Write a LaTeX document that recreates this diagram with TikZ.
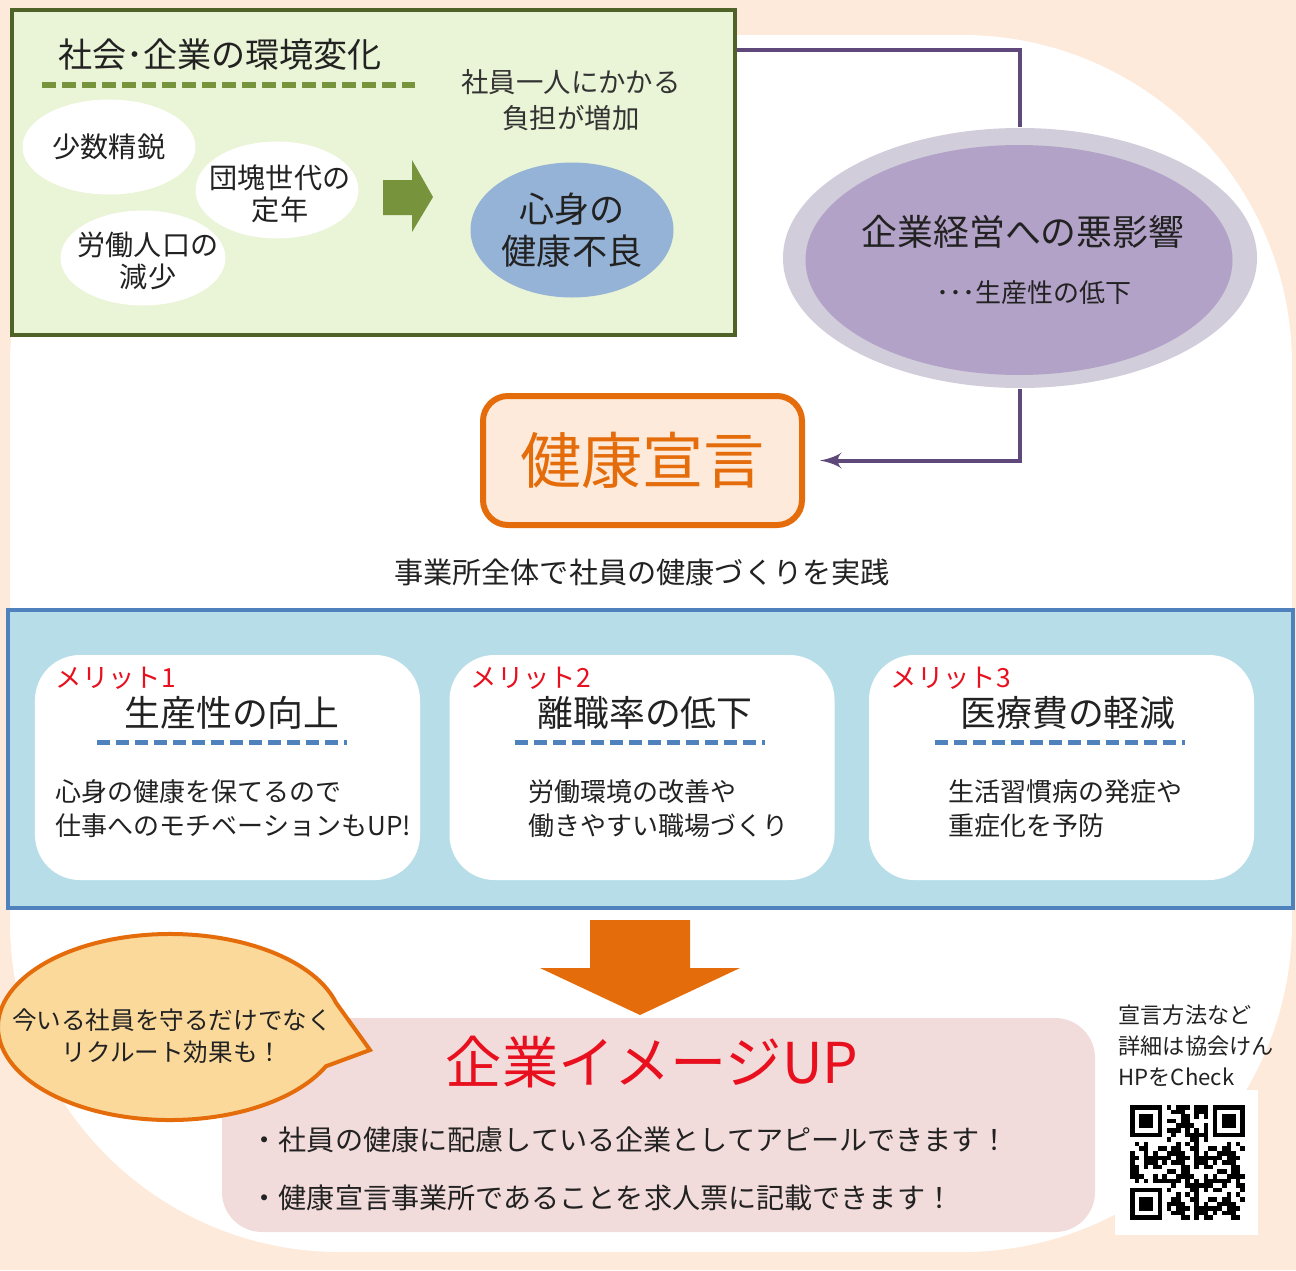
\documentclass[tikz,border=0pt]{standalone}
\usepackage{fontspec}
\setmainfont{Noto Sans CJK JP}
\usepackage{tikz}
\usetikzlibrary{shapes,arrows}
\usetikzlibrary{calc}
\usetikzlibrary{positioning}
\newcommand{\fsz}[2]{\fontsize{#1}{#2}\selectfont}
\definecolor{peach}{HTML}{FDEADA}
\definecolor{envlight}{HTML}{EAF4D6}
\definecolor{envdark}{HTML}{4F6228}
\definecolor{envmid}{HTML}{77933C}
\definecolor{healthblue}{HTML}{95B3D7}
\definecolor{linkpurple}{HTML}{5F497A}
\definecolor{halo}{HTML}{D2CDDB}
\definecolor{lavender}{HTML}{B3A2C7}
\definecolor{declorange}{HTML}{E46C0A}
\definecolor{framefill}{HTML}{B7DEE8}
\definecolor{frameblue}{HTML}{4F81BD}
\definecolor{meritred}{HTML}{E8101E}
\definecolor{imagepink}{HTML}{F2DCDB}
\definecolor{bubblefill}{HTML}{FAD99B}
\definecolor{ink}{HTML}{222222}
\tikzstyle{cloud} = [fill=white, ellipse, inner sep=0pt]
\tikzstyle{cloudtext} = [align=center, inner sep=0pt, text=ink, font=\fsz{8}{9.1}]
\tikzstyle{merit} = [fill=white, rounded corners=0.45cm,
    minimum width=3.85cm, minimum height=2.25cm]
\tikzstyle{tag} = [anchor=west, inner sep=0pt, text=meritred, font=\fsz{7.5}{9}]
\tikzstyle{head} = [inner sep=0pt, text=ink, font=\fsz{10.2}{12}]
\tikzstyle{body} = [anchor=west, align=left, inner sep=0pt, text=ink,
    font=\fsz{7.4}{9.7}]
\tikzstyle{rule} = [frameblue, line width=0.05cm, dash pattern=on 0.13cm off 0.06cm]
\tikzstyle{link} = [draw=linkpurple, line width=0.04cm]
\tikzstyle{bullet} = [anchor=west, inner sep=0pt, text=ink, font=\fsz{8}{9}]

\begin{document}
\begin{tikzpicture}[>=latex']
  \useasboundingbox (0,0) rectangle (12.96,-12.70);
  \fill [peach] (0,0) rectangle (12.96,-12.70);
  \fill [white, rounded corners=3.3cm] (0.10,-0.35) rectangle (12.92,-12.52);

  % environment change box
  \node [draw=envdark, line width=0.04cm, fill=envlight, minimum width=7.23cm,
    minimum height=3.25cm] at (3.735,-1.725) (env) {};
  \node [inner sep=0pt, text=ink, font=\fsz{9.7}{11}] at (2.20,-0.55) (envtitle) {社会･企業の環境変化};
  \draw [envmid, line width=0.06cm, dash pattern=on 0.14cm off 0.06cm] (0.42,-0.85) -- (4.15,-0.85);
  \node [align=center, inner sep=0pt, text=black!80, font=\fsz{7.8}{10.2}] at (5.71,-1.00) (burden) {社員一人にかかる\\負担が増加};
  \node [cloud, minimum width=1.73cm, minimum height=0.95cm] at (1.09,-1.47) (elite) {};
  \node [cloudtext] at (elite) (elitetxt) {少数精鋭};
  \node [cloud, minimum width=1.63cm, minimum height=0.97cm] at (2.77,-1.90) (retire) {};
  \node [cloudtext] at (2.80,-1.94) (retiretxt) {団塊世代の\\定年};
  \node [cloud, minimum width=1.65cm, minimum height=0.95cm] at (1.43,-2.58) (labor) {};
  \node [cloudtext] at (1.48,-2.61) (labortxt) {労働人口の\\減少};
  \fill [envmid] (3.83,-1.80) -- (4.12,-1.80) -- (4.12,-1.60) -- (4.33,-1.97)
    -- (4.12,-2.32) -- (4.12,-2.15) -- (3.83,-2.15) -- cycle;
  \node [ellipse, fill=healthblue, inner sep=0pt, minimum width=2.03cm,
    minimum height=1.35cm] at (5.72,-2.30) (health) {};
  \node [align=center, inner sep=0pt, text=ink, font=\fsz{10}{12}] at (health) (healthtxt) {心身の\\健康不良};

  % effect on management
  \node [ellipse, fill=halo, minimum width=4.74cm, minimum height=2.60cm] at (10.20,-2.58) (impact) {};
  \node [ellipse, fill=lavender, minimum width=4.27cm, minimum height=2.30cm] at (10.19,-2.60) (impactin) {};
  \node [inner sep=0pt, text=ink, font=\fsz{10.2}{12}] at (10.23,-2.32) (impacttxt) {企業経営への悪影響};
  \node [inner sep=0pt, text=ink, font=\fsz{7.4}{9}] at (10.34,-2.93) (impactsub) {･･･生産性の低下};
  \coordinate (tap) at (7.37,-0.50);
  \draw [link] (tap) -| (impact.north);

  % declaration
  \node [draw=declorange, line width=0.06cm, fill=peach, rounded corners=0.25cm,
    minimum width=3.19cm, minimum height=1.29cm, text=declorange,
    font=\fsz{17.4}{19}] at (6.425,-4.605) (decl) {健康宣言};
  \draw [link, ->, shorten >=0.15cm] (impact.south) |- (decl.east);
  \node [inner sep=0pt, text=ink, font=\fsz{8.3}{10}] at (6.42,-5.72) (practice) {事業所全体で社員の健康づくりを実践};

  % merits
  \node [draw=frameblue, line width=0.04cm, fill=framefill, minimum width=12.85cm,
    minimum height=2.98cm] at (6.505,-7.59) (frame) {};
  \node [merit] at (2.275,-7.675) (merit1) {};
  \node [merit] at (6.42,-7.675) (merit2) {};
  \node [merit] at (10.615,-7.675) (merit3) {};
  \node [tag] at (0.55,-6.78) (tag1) {メリット1};
  \node [tag] at (4.70,-6.78) (tag2) {メリット2};
  \node [tag] at (8.90,-6.78) (tag3) {メリット3};
  \node [head] at (2.32,-7.13) (head1) {生産性の向上};
  \node [head] at (6.45,-7.13) (head2) {離職率の低下};
  \node [head] at (10.68,-7.13) (head3) {医療費の軽減};
  \draw [rule] (0.97,-7.42) -- (3.47,-7.42);
  \draw [rule] (5.15,-7.42) -- (7.65,-7.42);
  \draw [rule] (9.35,-7.42) -- (11.85,-7.42);
  \node [body] at (0.55,-8.09) (body1) {心身の健康を保てるので\\仕事へのモチベーションもUP!};
  \node [body] at (5.28,-8.09) (body2) {労働環境の改善や\\働きやすい職場づくり};
  \node [body] at (9.48,-8.09) (body3) {生活習慣病の発症や\\重症化を予防};

  % company image
  \fill [declorange] (5.90,-9.20) -- (6.90,-9.20) -- (6.90,-9.68) -- (7.40,-9.68)
    -- (6.40,-10.15) -- (5.40,-9.68) -- (5.90,-9.68) -- cycle;
  \node [fill=imagepink, rounded corners=0.4cm, minimum width=8.73cm,
    minimum height=2.14cm] at (6.585,-11.25) (image) {};
  \node [inner sep=0pt, text=meritred, font=\fsz{16}{18}] at (6.52,-10.62) (imagetxt) {企業イメージUP};
  \node [bullet] at (2.50,-11.40) (point1) {・社員の健康に配慮している企業としてアピールできます！};
  \node [bullet] at (2.50,-11.98) (point2) {・健康宣言事業所であることを求人票に記載できます！};

  % speech bubble
  \coordinate (bub) at (1.70,-10.27);
  \coordinate (tip) at (3.70,-10.50);
  \draw [draw=declorange, line width=0.04cm, fill=bubblefill]
    (tip) -- ($(bub)+(15:1.72 and 0.93)$) arc [start angle=15, end angle=335,
    x radius=1.72cm, y radius=0.93cm] -- cycle;
  \node [align=center, inner sep=0pt, text=ink, font=\fsz{7}{9}] at (1.72,-10.36) (recruit) {今いる社員を守るだけでなく\\リクルート効果も！};

  % QR code
  \node [anchor=west, align=left, inner sep=0pt, text=ink, font=\fsz{6.3}{8.8}] at (11.18,-10.46) (qrinfo) {宣言方法など\\詳細は協会けん\\HPをCheck};
  \fill [white] (11.15,-10.90) rectangle (12.58,-12.35);
  \foreach \i in {0,...,24}
    \foreach \j in {0,...,24} {
      \pgfmathtruncatemacro\qv{mod(\i*\i*5+\j*\j*3+\i*\j*7+\i*11+\j*13,11)}
      \pgfmathtruncatemacro\qskip{(\i<8 && \j<8) || (\i>16 && \j<8) || (\i<8 && \j>16)}
      \ifnum\qskip=0 \ifnum\qv<6
        \fill [black] (11.30+\i*0.046,-11.05-\j*0.046) rectangle ++(0.046,-0.046);
      \fi\fi
    }
  \foreach \x/\y in {11.30/-11.05, 12.128/-11.05, 11.30/-11.878} {
    \fill [black] (\x,\y) rectangle ++(0.322,-0.322);
    \fill [white] (\x+0.046,\y-0.046) rectangle ++(0.23,-0.23);
    \fill [black] (\x+0.092,\y-0.092) rectangle ++(0.138,-0.138);
  }
\end{tikzpicture}
\end{document}
